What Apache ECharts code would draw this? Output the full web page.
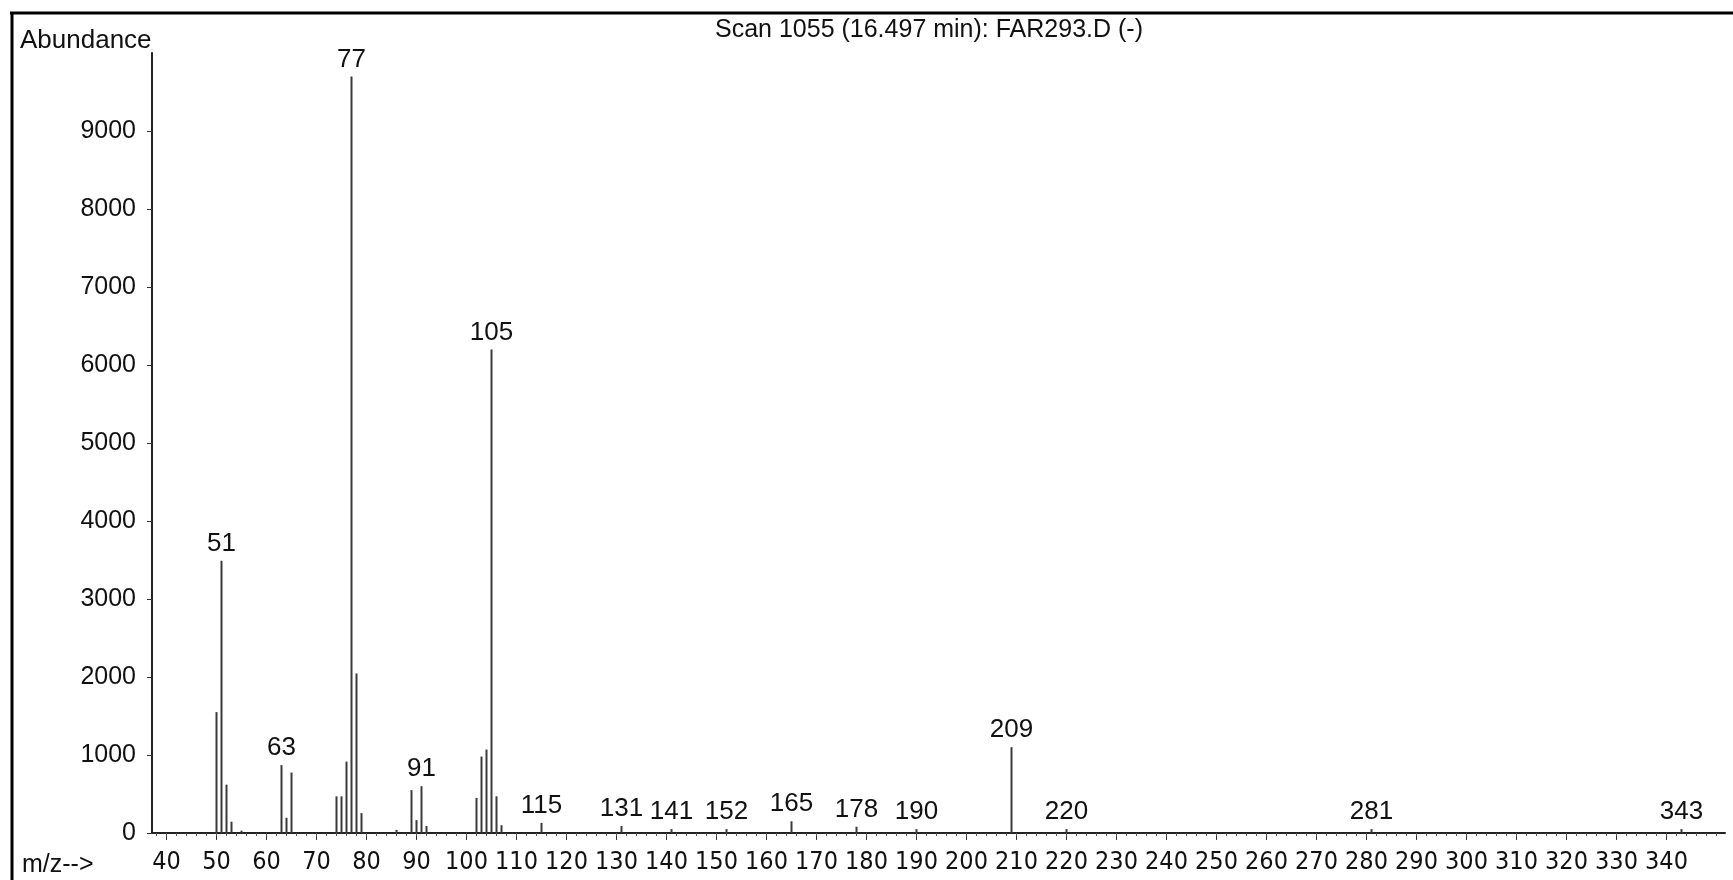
<!DOCTYPE html>
<html>
<head>
<meta charset="utf-8">
<title>Scan 1055</title>
<script src="https://cdn.jsdelivr.net/npm/echarts@6/dist/echarts.min.js"></script>
<style>
  html, body { margin: 0; padding: 0; background: #fff; }
  #main { width: 1733px; height: 880px; }
</style>
</head>
<body>
<div id="main"></div>
<script>
// peaks: m/z and abundance
var mz = [50, 51, 52, 53, 55, 63, 64, 65, 74, 75, 76, 77, 78, 79, 86, 89, 90, 91, 92,
          102, 103, 104, 105, 106, 107, 115, 131, 141, 152, 165, 178, 190, 209, 220, 281, 343];
var abundance = [1550, 3490, 620, 145, 30, 870, 195, 775, 470, 470, 915, 9700, 2045, 255, 40, 550, 165, 600, 90,
                 450, 980, 1070, 6200, 470, 100, 130, 90, 50, 50, 150, 80, 50, 1100, 50, 50, 50];
// peaks that carry an m/z label
var labelledMz = [51, 63, 77, 91, 105, 115, 131, 141, 152, 165, 178, 190, 209, 220, 281, 343];
// tick labels
var xTicks = [40, 50, 60, 70, 80, 90, 100, 110, 120, 130, 140, 150, 160, 170, 180, 190, 200,
              210, 220, 230, 240, 250, 260, 270, 280, 290, 300, 310, 320, 330, 340];
var yTicks = [0, 1000, 2000, 3000, 4000, 5000, 6000, 7000, 8000, 9000];

// small ticks every 2 units along m/z axis (decoration only)
var minorTicks = [];
for (var t = 38; t <= 350; t += 2) minorTicks.push(t);

var chart = echarts.init(document.getElementById('main'));

var data = mz.map(function (m, i) {
  return {
    value: [m, abundance[i]],
    label: { show: labelledMz.indexOf(m) >= 0 }
  };
});

var font = '"Liberation Sans", Arial, sans-serif';

var option = {
  backgroundColor: '#ffffff',
  animation: false,
  title: [
    {
      text: 'Scan 1055 (16.497 min): FAR293.D (-)',
      left: 710, top: 13,
      textStyle: { fontFamily: font, fontSize: 25, fontWeight: 'normal', color: '#111' }
    },
    {
      text: 'Abundance',
      left: 15, top: 23,
      textStyle: { fontFamily: font, fontSize: 26, fontWeight: 'normal', color: '#111' }
    },
    {
      text: 'm/z-->',
      left: 17, top: 848,
      textStyle: { fontFamily: font, fontSize: 25, fontWeight: 'normal', color: '#111' }
    }
  ],
  graphic: [
    { type: 'line', shape: { x1: 10, y1: 13, x2: 1733, y2: 13 }, style: { stroke: '#000', lineWidth: 3 } },
    { type: 'line', shape: { x1: 12, y1: 12, x2: 12, y2: 880 }, style: { stroke: '#000', lineWidth: 3 } }
  ],
  grid: { left: 152, right: 8, top: 53, bottom: 47 },
  xAxis: [
    {
      type: 'value',
      min: 37.1,
      max: 351.7,
      splitLine: { show: false },
      axisLine: { lineStyle: { color: '#222', width: 2 } },
      axisTick: { customValues: xTicks, length: 7, lineStyle: { color: '#333' } },
      axisLabel: {
        customValues: xTicks,
        margin: 17,
        fontFamily: '"Liberation Sans Narrow", "DejaVu Sans Condensed", Arial, sans-serif',
        fontSize: 25,
        color: '#111'
      }
    },
    {
      type: 'value',
      min: 37.1,
      max: 351.7,
      position: 'bottom',
      splitLine: { show: false },
      axisLine: { show: false },
      axisTick: { customValues: minorTicks, length: 3, lineStyle: { color: '#555' } },
      axisLabel: { show: false }
    }
  ],
  yAxis: {
    type: 'value',
    min: 0,
    max: 10000,
    splitLine: { show: false },
    axisLine: { show: true, lineStyle: { color: '#222', width: 2 } },
    axisTick: { show: true, customValues: yTicks, length: 5, lineStyle: { color: '#333' } },
    axisLabel: {
      customValues: yTicks,
      margin: 16,
      fontFamily: font,
      fontSize: 25,
      color: '#111',
      formatter: function (v) { return String(v); }
    }
  },
  series: [
    {
      type: 'bar',
      xAxisIndex: 0,
      barWidth: 2,
      itemStyle: { color: '#3a3a3a' },
      label: {
        show: false,
        position: 'top',
        distance: 4,
        fontFamily: font,
        fontSize: 26,
        color: '#111',
        formatter: function (p) { return p.value[0]; }
      },
      data: data
    }
  ]
};

chart.setOption(option);
</script>
</body>
</html>
